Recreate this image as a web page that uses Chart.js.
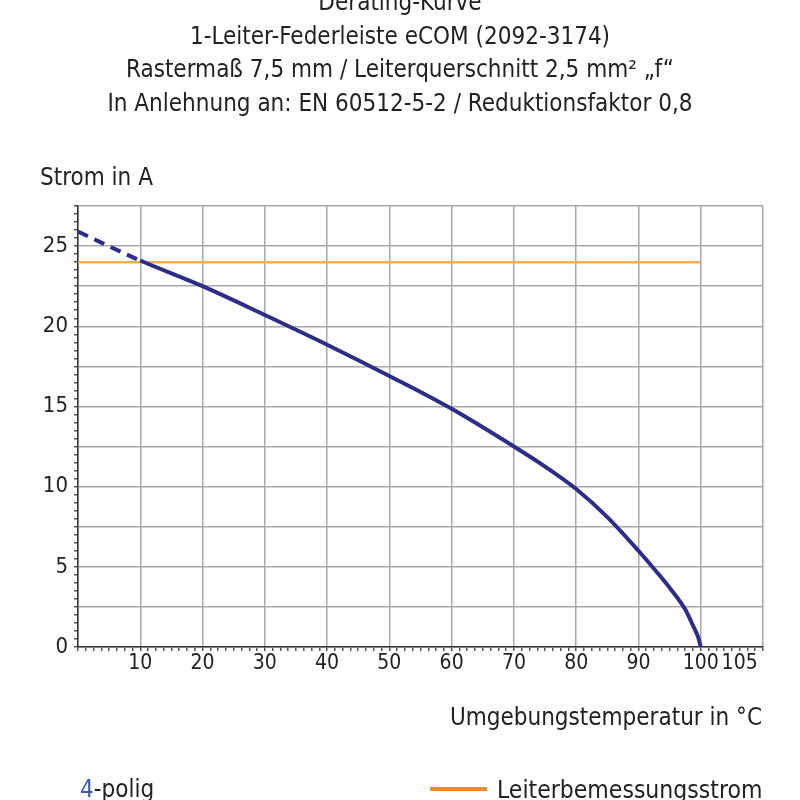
<!DOCTYPE html>
<html>
<head>
<meta charset="utf-8">
<title>Derating-Kurve</title>
<script src="https://cdn.jsdelivr.net/npm/chart.js@4.4.1/dist/chart.umd.min.js"></script>
<style>
    html, body { margin: 0; padding: 0; background: #fff; }
    #wrap {
        position: relative; width: 800px; height: 800px; overflow: hidden;
        font-family: "Liberation Sans Narrow", "DejaVu Sans Condensed", "Roboto", sans-serif;
        color: #222;
    }
    #chart { position: absolute; left: 0; top: 0; }
    .txt { position: absolute; white-space: nowrap; }
    #title { left: 0; width: 800px; top: -14px; text-align: center; font-size: 24px; line-height: 33.5px; }
    #yTitle { left: 40px; top: 163px; font-size: 24px; }
    #xTitle { right: 38px; top: 703px; font-size: 24px; }
    #legA { left: 80px; top: 775px; font-size: 24px; }
    #legA .num { color: #3a5ba8; }
    #legB { left: 497px; top: 775px; font-size: 24.5px; }
    #legLine { position: absolute; left: 430px; top: 787px; width: 57px; height: 4px; background: #ea8a2e; }
</style>
</head>
<body>
<div id="wrap">
    <canvas id="chart" width="800" height="800"></canvas>
    <div id="title" class="txt">Derating-Kurve<br>1-Leiter-Federleiste eCOM (2092-3174)<br>Rastermaß 7,5 mm / Leiterquerschnitt 2,5 mm² „f“<br>In Anlehnung an: EN 60512-5-2 / Reduktionsfaktor 0,8</div>
    <div id="yTitle" class="txt">Strom in A</div>
    <div id="xTitle" class="txt">Umgebungstemperatur in °C</div>
    <div id="legA" class="txt"><span class="num">4</span>-polig</div>
    <div id="legLine"></div>
    <div id="legB" class="txt">Leiterbemessungsstrom</div>
</div>
<script>
(function () {
    "use strict";

    // ---------- Data ----------
    // Derating curve (4-polig): temperature in °C, current in A
    var tempC   = [0,    10,   20,   30,   40,    50,   60,    70,   75,    80,   85,  90,  93,   95,  97.5, 98.8, 99.6, 100];
    var current = [25.9, 24.1, 22.5, 20.7, 18.85, 16.9, 14.85, 12.5, 11.25, 9.85, 8.1, 6.0, 4.65, 3.7, 2.35, 1.3,  0.6,  0];

    // Leiterbemessungsstrom (rated conductor current)
    var ratedX = [0, 100];
    var ratedY = [24, 24];

    // Axis tick labels (the "105" label sits a little right of 105 in the original)
    var xTickValues = [10, 20, 30, 40, 50, 60, 70, 80, 90, 100, 106.25];
    var xTickTexts  = ["10", "20", "30", "40", "50", "60", "70", "80", "90", "100", "105"];
    var yLabels = [0, 5, 10, 15, 20, 25];

    var FONT = "'Liberation Sans Narrow', 'DejaVu Sans Condensed', Roboto, sans-serif";
    var GRID = "#a8a8a8";

    function toPoints(xs, ys) {
        return xs.map(function (x, i) { return { x: x, y: ys[i] }; });
    }
    function isMult(v, step) {
        return Math.abs(v / step - Math.round(v / step)) < 1e-6;
    }

    var ctx = document.getElementById("chart").getContext("2d");

    new Chart(ctx, {
        type: "line",
        data: {
            datasets: [
                {
                    label: "4-polig",
                    data: toPoints(tempC, current),
                    borderColor: "#2b2d88",
                    borderWidth: 4,
                    pointRadius: 0,
                    cubicInterpolationMode: "monotone",
                    borderCapStyle: "butt",
                    segment: {
                        // extrapolated part below 10 °C is dashed
                        borderDash: function (c) { return c.p1DataIndex === 1 ? [11, 7] : undefined; }
                    },
                    order: 1
                },
                {
                    label: "Leiterbemessungsstrom",
                    data: toPoints(ratedX, ratedY),
                    borderColor: "#f3b04e",
                    borderWidth: 2.5,
                    pointRadius: 0,
                    order: 2
                }
            ]
        },
        options: {
            responsive: false,
            animation: false,
            layout: { padding: { left: 0, top: 206, right: 37, bottom: 113 } },
            plugins: {
                legend: { display: false },
                tooltip: { enabled: false }
            },
            scales: {
                x: {
                    type: "linear",
                    min: 0,
                    max: 110,
                    afterFit: function (s) { s.height = 40; },
                    border: { color: "#333", width: 1.5 },
                    grid: {
                        color: function (c) { return isMult(c.tick.value, 10) ? GRID : "rgba(0,0,0,0)"; },
                        lineWidth: 1.5,
                        tickColor: "#555",
                        tickLength: 4
                    },
                    ticks: {
                        stepSize: 1.25,
                        autoSkip: false,
                        maxRotation: 0,
                        minRotation: 0,
                        padding: 0,
                        color: "#222",
                        font: { family: FONT, size: 21 },
                        callback: function (v) {
                            var i = xTickValues.indexOf(v);
                            return i >= 0 ? xTickTexts[i] : "";
                        }
                    }
                },
                y: {
                    type: "linear",
                    min: 0,
                    max: 27.5,
                    afterFit: function (s) { s.width = 78; },
                    border: { color: "#333", width: 1.5 },
                    grid: {
                        color: function (c) { return isMult(c.tick.value, 2.5) ? GRID : "rgba(0,0,0,0)"; },
                        lineWidth: 1.5,
                        tickColor: "#555",
                        tickLength: 4
                    },
                    ticks: {
                        stepSize: 0.5,
                        autoSkip: false,
                        padding: 6,
                        color: "#222",
                        font: { family: FONT, size: 22 },
                        callback: function (v) { return yLabels.indexOf(v) >= 0 ? String(v) : ""; }
                    }
                }
            }
        }
    });
})();
</script>
</body>
</html>
